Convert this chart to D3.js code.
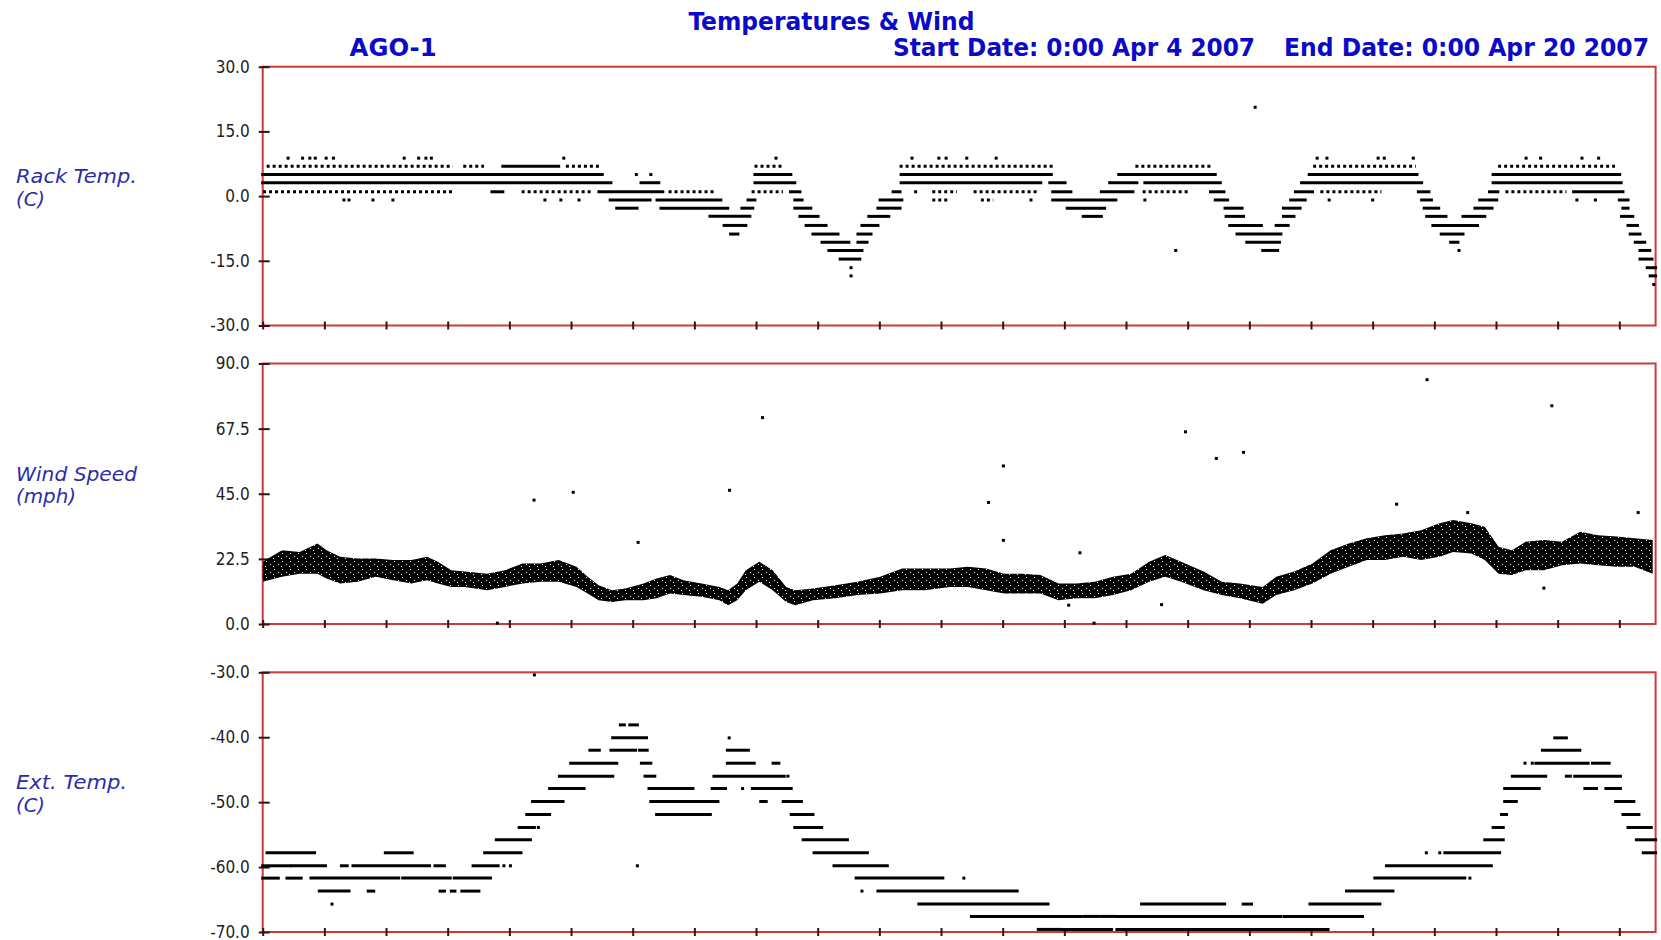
<!DOCTYPE html>
<html>
<head>
<meta charset="utf-8">
<title>Temperatures & Wind - AGO-1</title>
<script src="https://cdn.jsdelivr.net/npm/d3@7"></script>
<style>
  body { margin: 0; background: #fff; }
  svg { display: block; }
</style>
</head>
<body>
<svg id="chart"></svg>
<script>
// Time is in hours since 0:00 Apr 4 2007 (end 0:00 Apr 20 2007 = 384 h)

// ---- Rack temperature (C) ----
const rackTicks = [30, 15, 0, -15, -30];
// continuous readings: [startHour, endHour, value]
const rackRuns = [
  [66.2, 81.6, 6.9],
  [0, 93.6, 5.0], [135.7, 145.6, 5.0], [176, 217.4, 5.0], [236, 262.6, 5.0], [288.5, 318.2, 5.0], [339.2, 374.1, 5.0],
  [0, 96, 3.1], [104.3, 109.2, 3.1], [135.7, 146.7, 3.1], [176, 214.5, 3.1], [217, 221.2, 3.1], [233.5, 241, 3.1],
  [243.2, 264, 3.1], [286.4, 319.5, 3.1], [339.2, 374.5, 3.1],
  [63.2, 66.2, 1.0], [92.7, 110.3, 1.0], [145.5, 148.1, 1.0], [173.8, 175, 1.0], [217.8, 222.8, 1.0], [231.2, 239.9, 1.0],
  [261.3, 265, 1.0], [284.7, 289.4, 1.0], [318.6, 321.5, 1.0], [338.2, 340.5, 1.0], [361.4, 375, 1.0],
  [95.8, 106.8, -0.9], [108.7, 126.3, -0.9], [133.8, 135.7, -0.9], [146.7, 148.7, -0.9], [170.2, 176.2, -0.9],
  [217.8, 235.2, -0.9], [262.6, 266, -0.9], [283.4, 287.4, -0.9], [319.5, 322.2, -0.9], [335.5, 340.2, -0.9], [374, 376.4, -0.9],
  [97.6, 103.2, -2.8], [109.8, 128.2, -2.8], [132.1, 135.1, -2.8], [146.7, 151.1, -2.8], [169.6, 175.7, -2.8],
  [221.8, 232.1, -2.8], [265.3, 270, -2.8], [281.4, 286, -2.8], [320.2, 324.2, -2.8], [334.2, 338.9, -2.8], [375, 376.4, -2.8],
  [123.3, 134.3, -4.7], [148.1, 153.1, -4.7], [167.1, 172.6, -4.7], [226.2, 231.2, -4.7], [265.6, 270.4, -4.7],
  [281.4, 284.3, -4.7], [320.9, 326.2, -4.7], [330.9, 336.9, -4.7], [374.6, 377.7, -4.7],
  [127.2, 133.2, -6.8], [149.8, 155.3, -6.8], [165.2, 169.6, -6.8], [266.6, 275.3, -6.8], [279.4, 282.7, -6.8],
  [322.6, 334.9, -6.8], [376.4, 379, -6.8],
  [129, 131, -8.8], [151.7, 158.6, -8.8], [164.1, 167.7, -8.8], [268.6, 280.7, -8.8], [324.9, 330.9, -8.8], [377, 379.7, -8.8],
  [154.2, 161.6, -10.7], [164.1, 166.6, -10.7], [271.3, 280.3, -10.7], [327.5, 329.5, -10.7], [378.4, 381, -10.7],
  [156.1, 165.2, -12.6], [275.7, 279.8, -12.6], [379.7, 382.4, -12.6],
  [159.2, 164.6, -14.6], [379.7, 383, -14.6],
  [381.7, 384, -16.6], [382.5, 384, -18.5]
];
// intermittent readings: [startHour, endHour, value]
const rackSparse = [
  [1.5, 52, 6.9], [55.7, 60.6, 6.9], [84, 92.6, 6.9], [136, 143, 6.9], [176, 217.4, 6.9], [241, 261.3, 6.9],
  [290, 317.5, 6.9], [341, 372.4, 6.9],
  [0.5, 52, 1.0], [71.8, 90.2, 1.0], [112.3, 124.1, 1.0], [135.2, 143, 1.0], [185, 191, 1.0], [196.4, 213, 1.0],
  [243, 254.6, 1.0], [292, 308, 1.0], [343, 359, 1.0],
  [185, 189, -0.9], [198.4, 201, -0.9]
];
// single readings: [hour, value]
const rackPoints = [
  [7, 8.8], [11, 8.8], [13, 8.8], [14.5, 8.8], [17.5, 8.8], [19.5, 8.8], [39, 8.8], [43, 8.8], [45, 8.8], [46.5, 8.8],
  [83, 8.8], [141.5, 8.8], [179, 8.8], [186.4, 8.8], [188.4, 8.8], [194.1, 8.8], [202.2, 8.8], [290.7, 8.8], [293.4, 8.8],
  [307.5, 8.8], [309.2, 8.8], [317.2, 8.8], [348.3, 8.8], [352.3, 8.8], [363.7, 8.8], [368.3, 8.8],
  [103, 5.0], [107, 5.0], [175.7, 1.0], [180, 1.0],
  [22.4, -0.9], [23.8, -0.9], [30.4, -0.9], [35.9, -0.9], [77.8, -0.9], [82.2, -0.9], [87.2, -0.9], [211.8, -0.9],
  [243.2, -0.9], [294, -0.9], [306, -0.9], [362.3, -0.9], [367.4, -0.9],
  [251.7, -12.6], [329.8, -12.6], [162.2, -16.6], [162.2, -18.5], [383.5, -20.5], [273.6, 20.6]
];

// ---- Wind speed (mph) ----
const windTicks = [90, 67.5, 45, 22.5, 0];
// bulk of readings: [hour, low, high]
const windBand = [
  [0, 14.6, 21.5], [5.3, 16.3, 25.5], [10.2, 17.4, 24.9], [15.1, 17.4, 27.8], [17.6, 15.7, 25.5], [21.3, 14.0, 23.2],
  [26.2, 14.6, 22.6], [31.1, 16.3, 22.6], [36.0, 15.1, 22.1], [41.0, 14.0, 22.1], [45.3, 15.1, 23.2], [48.3, 14.0, 21.5],
  [52.0, 12.8, 18.6], [55.7, 12.8, 18.1], [61.9, 11.7, 17.4], [66.8, 12.8, 18.6], [71.7, 14.0, 20.9], [76.6, 14.6, 20.9],
  [81.6, 14.6, 22.1], [86.5, 12.8, 19.8], [89.6, 10.5, 16.3], [92.6, 8.2, 13.4], [96.3, 7.6, 11.7], [100.0, 8.2, 12.3],
  [105.0, 8.2, 14.0], [108.6, 8.9, 15.7], [112.3, 10.5, 16.9], [116.0, 10.0, 15.1], [121.0, 9.4, 14.0], [125.9, 8.2, 12.8],
  [128.3, 6.5, 11.7], [130.8, 8.2, 14.0], [133.2, 11.7, 18.6], [136.9, 14.6, 21.5], [140.6, 11.7, 18.6], [144.3, 7.6, 12.8],
  [146.8, 6.5, 11.7], [151.7, 8.2, 12.3], [157.9, 8.9, 13.4], [164.0, 10.0, 14.6], [170.2, 10.5, 16.3], [176.3, 11.7, 19.2],
  [182.5, 11.7, 19.2], [189.4, 12.8, 19.2], [194.4, 12.8, 19.8], [199.4, 11.7, 19.2], [204.4, 10.5, 17.4], [209.4, 10.5, 17.4],
  [214.4, 10.5, 16.9], [219.4, 8.2, 14.0], [224.4, 8.9, 14.0], [229.4, 8.9, 14.6], [234.4, 10.0, 16.3], [239.4, 11.7, 17.4],
  [244.4, 14.6, 21.5], [248.8, 16.3, 23.8], [253.2, 14.6, 21.5], [259.4, 11.7, 18.1], [264.4, 10.0, 14.6], [269.4, 8.9, 14.0],
  [275.7, 7.0, 12.8], [279.4, 10.0, 16.3], [284.4, 11.7, 18.1], [289.4, 14.0, 20.9], [294.4, 17.4, 25.5], [299.4, 19.8, 27.8],
  [304.4, 22.1, 29.6], [309.4, 22.1, 30.7], [314.4, 23.2, 31.3], [319.4, 22.1, 32.4], [324.4, 23.2, 34.8], [328.2, 24.9, 35.9],
  [333.2, 24.4, 34.8], [336.9, 22.1, 33.6], [340.7, 17.4, 26.7], [344.4, 16.9, 25.5], [348.2, 18.6, 28.4], [353.2, 18.6, 29.0],
  [358.2, 20.3, 28.4], [363.2, 20.9, 31.9], [368.2, 20.3, 30.7], [373.2, 19.8, 30.2], [378.2, 19.8, 29.6], [383.2, 17.4, 29.0]
];
// isolated readings: [hour, mph]
const windPoints = [
  [64.7, 0.3], [74.8, 42.8], [85.6, 45.5], [103.5, 28.2], [128.7, 46.2], [137.8, 71.3], [200.1, 42.0], [204.2, 54.6],
  [204.2, 28.9], [225.3, 24.6], [222.2, 6.5], [229.2, 0.3], [247.8, 6.7], [254.4, 66.4], [262.9, 57.2], [270.4, 59.3],
  [312.6, 41.4], [321, 84.4], [332.2, 38.5], [353.2, 12.4], [355.4, 75.4], [379.2, 38.5]
];

// ---- External temperature (C) ----
const extTicks = [-30, -40, -50, -60, -70];
const extRuns = [
  [98.6, 99.7, -38.1], [101.2, 103.3, -38.1],
  [96.5, 105.8, -40.1], [356.2, 359.4, -40.1],
  [90.2, 92.8, -42.0], [96, 102.8, -42.0], [103.9, 106, -42.0], [128.1, 133.9, -42.0], [352.8, 363.1, -42.0],
  [84.9, 97.6, -44.0], [104.4, 107, -44.0], [128.1, 135.5, -44.0], [140.7, 142.3, -44.0], [351, 365.4, -44.0], [366.6, 371.2, -44.0],
  [81.8, 96.5, -46.0], [105.4, 108.1, -46.0], [124.4, 143.8, -46.0], [344.5, 353.7, -46.0], [359.4, 360.5, -46.0], [361.7, 374.3, -46.0],
  [79.1, 88.6, -47.9], [106.5, 118.6, -47.9], [123.9, 127.6, -47.9], [135, 145.7, -47.9], [342.4, 351.9, -47.9],
  [364.5, 367.7, -47.9], [370.3, 374.3, -47.9],
  [74.4, 82.8, -49.9], [107, 125.5, -49.9], [137.3, 138.8, -49.9], [143.5, 148.5, -49.9], [342.4, 345.6, -49.9], [373, 378, -49.9],
  [72.8, 79.1, -51.9], [108.6, 123.4, -51.9], [145.7, 151.7, -51.9], [341.5, 342.9, -51.9], [375, 379.4, -51.9],
  [70.7, 74.9, -53.9], [146.7, 154.1, -53.9], [339.2, 342, -53.9], [376.4, 382.8, -53.9],
  [64.4, 73.8, -55.8], [149, 161.2, -55.8], [336.9, 342, -55.8], [378.7, 384, -55.8],
  [1.2, 14.3, -57.8], [33.8, 41.2, -57.8], [61.2, 71.2, -57.8], [152, 166.7, -57.8], [325.9, 341, -57.8], [380.6, 384, -57.8],
  [0, 7.5, -59.8], [8, 17.3, -59.8], [21.7, 23.3, -59.8], [24.9, 46, -59.8], [47.5, 50.1, -59.8], [58, 64.9, -59.8],
  [157.5, 172.2, -59.8], [309.8, 338.7, -59.8],
  [0, 4.3, -61.7], [6.7, 10.6, -61.7], [13.3, 37.5, -61.7], [38.6, 51.7, -61.7], [52.8, 62.8, -61.7], [163.6, 187.5, -61.7],
  [306.6, 331.4, -61.7],
  [15.6, 23.8, -63.7], [29.1, 30.6, -63.7], [48.9, 50.1, -63.7], [52, 53, -63.7], [54.9, 59.6, -63.7], [169.6, 208, -63.7],
  [298.8, 311.6, -63.7],
  [180.9, 216.5, -65.7], [242.3, 265.2, -65.7], [270.3, 272.6, -65.7], [288.7, 308, -65.7],
  [195.4, 225.7, -67.6], [226.5, 230.2, -67.6], [231, 235, -67.6], [235.6, 280.7, -67.6], [281.6, 303.2, -67.6],
  [213.8, 220, -69.6], [220.5, 234, -69.6], [235.5, 293.7, -69.6]
];
const extPoints = [
  [128.6, -40.1], [144.8, -46.0], [132.3, -47.9], [76, -53.9], [320.8, -57.8], [324.5, -57.8], [66.5, -59.8], [68.3, -59.8],
  [103.3, -59.8], [193.3, -61.7], [332.8, -61.7], [165.2, -63.7], [19.1, -65.7], [348, -44.0], [350, -44.0], [74.9, -30.4]
];

const HOURS = 384;
const xTickHours = d3.range(0, HOURS, 17);

const W = 1661, H = 940;
const X0 = 262.7, X1 = 1655.6;
const FRAME = '#cc3a3a';
const TICK = '#3a1010';
const BLUE = '#0a0ac8';
const LABEL_BLUE = '#2c2ca8';

const svg = d3.select('#chart').attr('width', W).attr('height', H);
const x = d3.scaleLinear().domain([0, HOURS]).range([X0, X1]);

// lightly speckled black fill so the wind cloud reads like packed dots
const pat = svg.append('defs').append('pattern')
  .attr('id', 'speckle')
  .attr('patternUnits', 'userSpaceOnUse')
  .attr('width', 8).attr('height', 8);
pat.append('rect').attr('width', 8).attr('height', 8).attr('fill', '#000');
[[2, 1], [6, 4], [1, 6]].forEach(r => {
  pat.append('rect').attr('x', r[0]).attr('y', r[1]).attr('width', 1).attr('height', 1).attr('fill', '#fff');
});

const panels = [
  { top: 66.7, bottom: 325.5, domain: [-30, 30], ticks: rackTicks,
    label: ['Rack Temp.', '(C)'], labelWidths: [121, 29],
    runs: rackRuns, sparse: rackSparse, points: rackPoints },
  { top: 363.5, bottom: 624, domain: [0, 90], ticks: windTicks,
    label: ['Wind Speed', '(mph)'], labelWidths: [121, 60],
    band: windBand, points: windPoints },
  { top: 672.3, bottom: 932, domain: [-70, -30], ticks: extTicks,
    label: ['Ext. Temp.', '(C)'], labelWidths: [111, 29],
    runs: extRuns, points: extPoints }
];

function drawPanel(p) {
  const y = d3.scaleLinear().domain(p.domain).range([p.bottom, p.top]);
  const g = svg.append('g');

  // frame
  g.append('rect')
    .attr('x', X0).attr('y', p.top)
    .attr('width', X1 - X0).attr('height', p.bottom - p.top)
    .attr('fill', 'none').attr('stroke', FRAME).attr('stroke-width', 2);

  // y axis, ticks cross the frame line
  const ga = g.append('g')
    .attr('transform', `translate(${X0},0)`)
    .call(d3.axisLeft(y).tickValues(p.ticks).tickSize(4).tickPadding(9).tickFormat(d => d.toFixed(1)));
  ga.select('.domain').remove();
  ga.attr('font-family', '"DejaVu Sans Condensed", "DejaVu Sans", sans-serif')
    .attr('font-size', 17);
  ga.selectAll('.tick line').attr('x1', 7).attr('stroke', TICK).attr('stroke-width', 2);
  ga.selectAll('.tick text').attr('fill', '#1e1e1e').style('font-stretch', 'condensed');

  // time ticks along the bottom
  const gb = g.append('g')
    .attr('transform', `translate(0,${p.bottom})`)
    .call(d3.axisBottom(x).tickValues(xTickHours).tickSize(4).tickFormat(''));
  gb.select('.domain').remove();
  gb.selectAll('.tick line').attr('y1', -4).attr('stroke', TICK).attr('stroke-width', 2);

  // panel label
  const cy = (p.top + p.bottom) / 2;
  const lab = g.append('g')
    .attr('font-family', '"DejaVu Sans Condensed", "DejaVu Sans", sans-serif')
    .attr('font-style', 'italic')
    .attr('font-size', 19)
    .attr('fill', LABEL_BLUE);
  p.label.forEach((t, i) => {
    lab.append('text')
      .attr('x', 16).attr('y', cy - 13 + i * 22.5)
      .attr('textLength', p.labelWidths[i]).attr('lengthAdjust', 'spacingAndGlyphs')
      .text(t);
  });

  const marks = g.append('g');

  if (p.band) {
    const area = d3.area()
      .x(d => x(d[0]))
      .y0(d => y(d[1]))
      .y1(d => y(d[2]));
    marks.append('path')
      .datum(p.band)
      .attr('d', area)
      .attr('fill', 'url(#speckle)');
  }

  if (p.runs) {
    marks.selectAll('line.run')
      .data(p.runs)
      .join('line')
      .attr('class', 'run')
      .attr('x1', d => x(d[0]) - 1.5).attr('x2', d => x(d[1]) + 1.5)
      .attr('y1', d => y(d[2])).attr('y2', d => y(d[2]))
      .attr('stroke', '#000').attr('stroke-width', 3);
  }

  if (p.sparse) {
    marks.selectAll('line.sparse')
      .data(p.sparse)
      .join('line')
      .attr('class', 'sparse')
      .attr('x1', d => x(d[0]) - 1.5).attr('x2', d => x(d[1]) + 1.5)
      .attr('y1', d => y(d[2])).attr('y2', d => y(d[2]))
      .attr('stroke', '#000').attr('stroke-width', 3)
      .attr('stroke-dasharray', '3 3');
  }

  marks.selectAll('rect.pt')
    .data(p.points)
    .join('rect')
    .attr('class', 'pt')
    .attr('x', d => x(d[0]) - 1.5).attr('y', d => y(d[1]) - 1.5)
    .attr('width', 3).attr('height', 3)
    .attr('fill', '#000');
}

panels.forEach(drawPanel);

// headers
const head = svg.append('g')
  .attr('font-family', '"DejaVu Sans Condensed", "DejaVu Sans", sans-serif')
  .attr('font-weight', 'bold')
  .attr('font-size', 24)
  .attr('fill', BLUE);

head.append('text')
  .attr('x', 688.5).attr('y', 30)
  .attr('textLength', 286).attr('lengthAdjust', 'spacingAndGlyphs')
  .text('Temperatures & Wind');

head.append('text')
  .attr('x', 349.6).attr('y', 55.5)
  .attr('textLength', 87).attr('lengthAdjust', 'spacingAndGlyphs')
  .text('AGO-1');

head.append('text')
  .attr('x', 893).attr('y', 55.5)
  .attr('textLength', 362).attr('lengthAdjust', 'spacingAndGlyphs')
  .text('Start Date: 0:00 Apr 4 2007');

head.append('text')
  .attr('x', 1284).attr('y', 55.5)
  .attr('textLength', 365).attr('lengthAdjust', 'spacingAndGlyphs')
  .text('End Date: 0:00 Apr 20 2007');
</script>
</body>
</html>
